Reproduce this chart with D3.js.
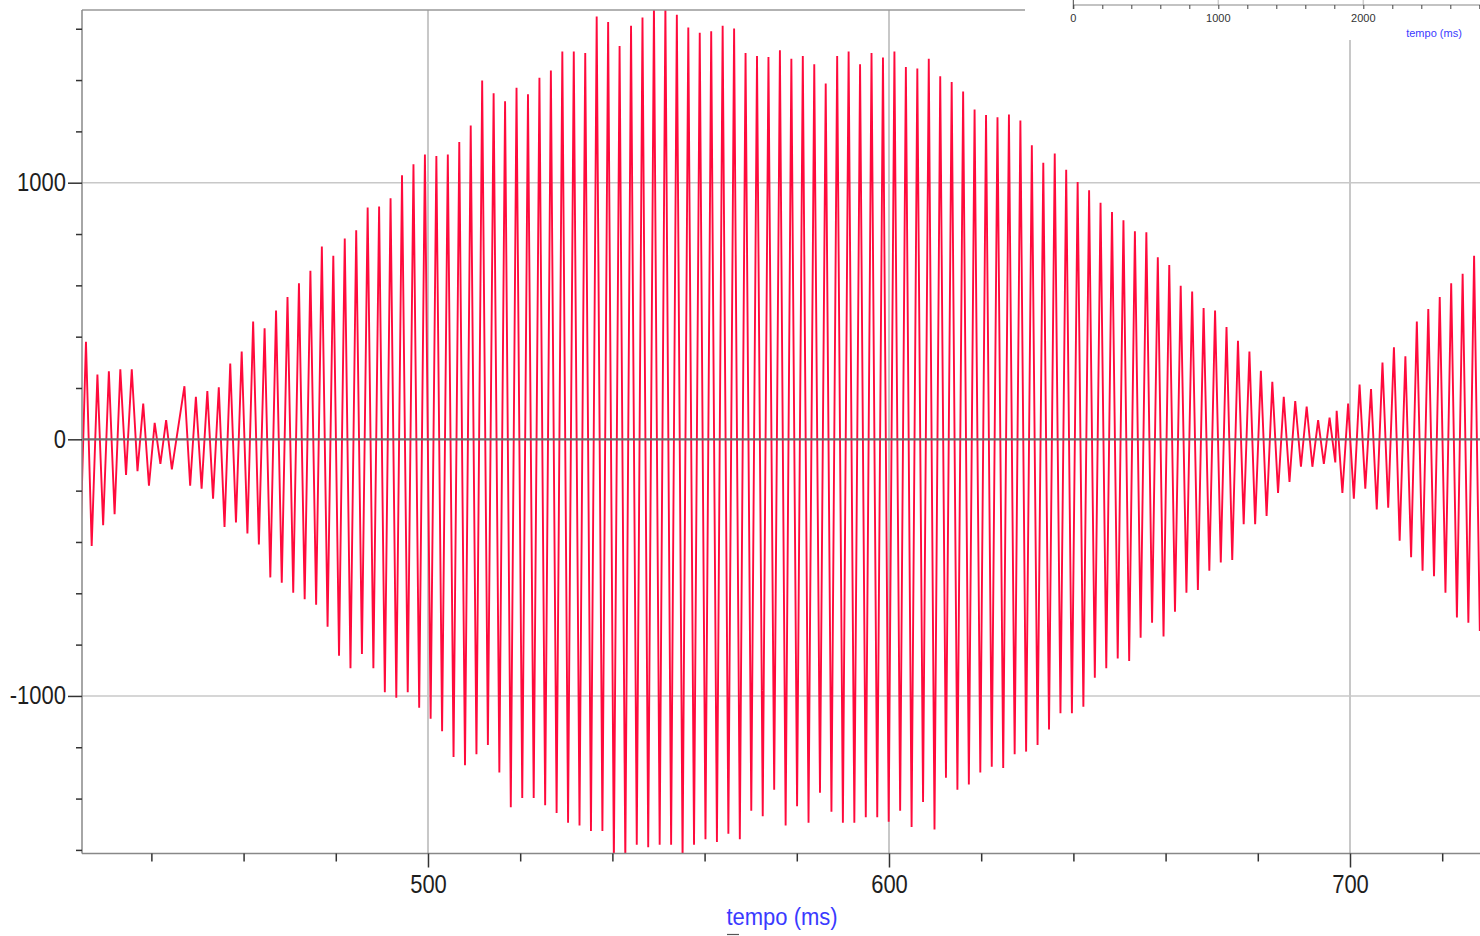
<!DOCTYPE html>
<html>
<head>
<meta charset="utf-8">
<script src="https://cdn.jsdelivr.net/npm/d3@7"></script>
<style>
  body { margin: 0; background: #fff; }
  svg { display: block; }
</style>
</head>
<body>
<script>
var width = 1480,
    height = 936;

// axis ticks
var xTicksMajor = [500, 600, 700],
    xTicksMinor = [440, 460, 480, 520, 540, 560, 580, 620, 640, 660, 680, 720],
    yTicksMajor = [-1000, 0, 1000],
    yTicksMinor = [-1600, -1400, -1200, -800, -600, -400, -200, 200, 400, 600, 800, 1200, 1400, 1600],
    insetTicks = [0, 200, 400, 600, 800, 1000, 1200, 1400, 1600, 1800, 2000, 2200, 2400, 2600, 2800],
    insetLabels = [0, 1000, 2000];

// waveform: one peak and one trough per cycle (ms, amplitude)
var period = 2.484;

var leftLead = -420,
    leftStart = 425.81,
    leftPeaks   = [380, 252, 265, 273, 273, 139, 64, 75],
    leftTroughs = [-416, -335, -292, -139, -124, -181, -96, -117];

var mainStart = 447.17,
    mainPeaks = [207, 166, 188, 203, 295, 342, 459, 433, 502, 555, 608, 657, 751,
      715, 783, 815, 903, 907, 939, 1029, 1072, 1110, 1104, 1110, 1159, 1223, 1398, 1349, 1317, 1370, 1345, 1409, 1437, 1511, 1511,
      1505, 1648, 1626, 1533, 1612, 1644, 1690, 1690, 1654, 1605, 1584, 1590, 1612, 1601, 1505, 1494, 1490, 1516, 1483, 1494, 1462, 1387,
      1494, 1511, 1462, 1505, 1488, 1511, 1451, 1445, 1483, 1415, 1392, 1355, 1285, 1264, 1255, 1266, 1242, 1146, 1078, 1114, 1050, 1003,
      971, 922, 886, 854, 811, 807, 709, 679, 598, 576, 512, 502, 438, 384, 342, 267, 224, 166, 149, 128, 75, 85],
    mainTroughs = [-181, -192, -231, -342, -324, -367, -410, -538, -559, -598, -623, -645, -730,
      -843, -892, -837, -892, -986, -1007, -986, -1046, -1089, -1138, -1238, -1270, -1227, -1191, -1298, -1434, -1398, -1398, -1426, -1456, -1494, -1505,
      -1526, -1526, -1650, -1650, -1580, -1590, -1580, -1580, -1640, -1580, -1558, -1569, -1537, -1558, -1447, -1469, -1366, -1505, -1430, -1494, -1377, -1451,
      -1494, -1494, -1473, -1473, -1490, -1447, -1511, -1413, -1520, -1319, -1366, -1345, -1298, -1276, -1281, -1227, -1217, -1191, -1131, -1067, -1067, -1042,
      -929, -892, -854, -864, -773, -715, -768, -672, -598, -587, -512, -480, -470, -331, -331, -299, -209, -166, -107, -107, -96, -90];

var rightStart = 697.11,
    rightPeaks   = [111, 139, 213, 196, 299, 359, 324, 459, 508, 555, 608, 645, 715],
    rightTroughs = [-209, -231, -192, -273, -267, -395, -459, -512, -534, -598, -694, -715, -747];

function lobe(start, peaks, troughs) {
  var pts = [];
  peaks.forEach(function(p, i) {
    pts.push({t: start + i * period, v: p});
    pts.push({t: start + (i + 0.5) * period, v: troughs[i]});
  });
  return pts;
}

var wave = [{t: leftStart - period / 2, v: leftLead}]
  .concat(lobe(leftStart, leftPeaks, leftTroughs))
  .concat(lobe(mainStart, mainPeaks, mainTroughs))
  .concat(lobe(rightStart, rightPeaks, rightTroughs));

var pLeft = 82, pRight = 1480, pTop = 10, pBottom = 853.5;

var x = d3.scaleLinear().domain([424.95, 728.2]).range([pLeft, pRight]),
    y = d3.scaleLinear().domain([1673, -1614]).range([pTop, pBottom]);

var svg = d3.select("body").append("svg").attr("width", width).attr("height", height);

svg.append("defs").append("clipPath").attr("id", "plot")
  .append("rect").attr("x", pLeft).attr("y", pTop).attr("width", pRight - pLeft).attr("height", pBottom - pTop);

// grid
svg.selectAll(".hgrid")
  .data([-1000, 1000])
  .enter().append("line")
    .attr("x1", pLeft).attr("x2", pRight)
    .attr("y1", function(d) { return y(d); }).attr("y2", function(d) { return y(d); })
    .attr("stroke", "#c8c8c8").attr("stroke-width", 1.5);

svg.selectAll(".vgrid")
  .data(xTicksMajor)
  .enter().append("line")
    .attr("x1", function(d) { return x(d); }).attr("x2", function(d) { return x(d); })
    .attr("y1", function(d) { return d == 700 ? 40 : pTop; }).attr("y2", pBottom)
    .attr("stroke", "#c8c8c8").attr("stroke-width", 2);

// waveform
svg.append("path")
  .datum(wave)
  .attr("clip-path", "url(#plot)")
  .attr("fill", "none")
  .attr("stroke", "#ff0a3c")
  .attr("stroke-width", 1.9)
  .attr("d", d3.line().x(function(d) { return x(d.t); }).y(function(d) { return y(d.v); }));

// zero line on top
svg.append("line")
  .attr("x1", pLeft).attr("x2", pRight).attr("y1", y(0)).attr("y2", y(0))
  .attr("stroke", "#6e6e6e").attr("stroke-width", 2.2);

// frame
svg.append("line").attr("x1", pLeft).attr("x2", 1025).attr("y1", pTop).attr("y2", pTop)
  .attr("stroke", "#999").attr("stroke-width", 1.5);
svg.append("line").attr("x1", pLeft).attr("x2", pLeft).attr("y1", pTop).attr("y2", pBottom)
  .attr("stroke", "#888").attr("stroke-width", 1.5);
svg.append("line").attr("x1", pLeft).attr("x2", pRight).attr("y1", pBottom).attr("y2", pBottom)
  .attr("stroke", "#888").attr("stroke-width", 1.5);

// x axis
var gx = svg.append("g").attr("transform", "translate(0," + pBottom + ")");
gx.append("g").call(d3.axisBottom(x).tickValues(xTicksMinor).tickSize(8).tickFormat(""));
gx.append("g").call(d3.axisBottom(x).tickValues(xTicksMajor).tickSize(14).tickPadding(6).tickFormat(function(d) { return String(d); }));
gx.selectAll(".domain").remove();
gx.selectAll(".tick line").attr("stroke", "#333").attr("stroke-width", 1.5);
gx.selectAll(".tick text")
  .attr("font-family", "'Liberation Sans', Arial, sans-serif")
  .attr("font-size", 22).attr("fill", "#1e1e1e")
  .attr("dy", null).attr("y", null)
  .attr("transform", "translate(0,39) scale(1,1.2)");

// y axis
var gy = svg.append("g").attr("transform", "translate(" + pLeft + ",0)");
gy.append("g").call(d3.axisLeft(y).tickValues(yTicksMinor).tickSize(6).tickFormat(""));
gy.append("g").call(d3.axisLeft(y).tickValues(yTicksMajor).tickSize(14).tickPadding(2).tickFormat(function(d) { return String(d); }));
gy.selectAll(".domain").remove();
gy.selectAll(".tick line").attr("stroke", "#333").attr("stroke-width", 1.5);
gy.selectAll(".tick text")
  .attr("font-family", "'Liberation Sans', Arial, sans-serif")
  .attr("font-size", 22).attr("fill", "#1e1e1e")
  .attr("dy", null)
  .attr("transform", "translate(0,8) scale(1,1.2)");

// axis title
svg.append("text")
  .attr("transform", "translate(782,925) scale(1,1.1)")
  .attr("text-anchor", "middle")
  .attr("font-family", "'Liberation Sans', Arial, sans-serif")
  .attr("font-size", 22)
  .attr("fill", "#3a3aff")
  .text("tempo (ms)");
svg.append("line").attr("x1", 727).attr("x2", 739).attr("y1", 934.5).attr("y2", 934.5)
  .attr("stroke", "#555").attr("stroke-width", 1.2);

// overview inset (top right)
var ix = d3.scaleLinear().domain([0, 1000]).range([1073.3, 1218.3]);
var inset = svg.append("g");
inset.append("rect").attr("x", 1026).attr("y", 0).attr("width", pRight - 1026).attr("height", 40).attr("fill", "#fff");
inset.selectAll(".igrid")
  .data([1000, 2000])
  .enter().append("line")
    .attr("x1", function(d) { return ix(d); }).attr("x2", function(d) { return ix(d); })
    .attr("y1", 0).attr("y2", 5)
    .attr("stroke", "#ccc").attr("stroke-width", 1.5);
var gi = inset.append("g").attr("transform", "translate(0,5)");
gi.call(d3.axisBottom(ix).tickValues(insetTicks).tickSize(4).tickFormat(""));
gi.select(".domain").attr("d", "M" + ix(0) + ",0H" + pRight).attr("stroke", "#888").attr("stroke-width", 1.2);
gi.selectAll(".tick line").attr("stroke", "#444");
inset.append("line").attr("x1", ix(0)).attr("x2", ix(0)).attr("y1", 0).attr("y2", 9)
  .attr("stroke", "#444");
inset.selectAll(".ilabel")
  .data(insetLabels)
  .enter().append("text")
    .attr("x", function(d) { return ix(d); })
    .attr("y", 22)
    .attr("text-anchor", "middle")
    .attr("font-family", "'Liberation Sans', Arial, sans-serif")
    .attr("font-size", 11)
    .attr("fill", "#333")
    .text(function(d) { return d; });
inset.append("text")
  .attr("x", 1434).attr("y", 37)
  .attr("text-anchor", "middle")
  .attr("font-family", "'Liberation Sans', Arial, sans-serif")
  .attr("font-size", 11)
  .attr("fill", "#3a3aff")
  .text("tempo (ms)");
</script>
</body>
</html>
